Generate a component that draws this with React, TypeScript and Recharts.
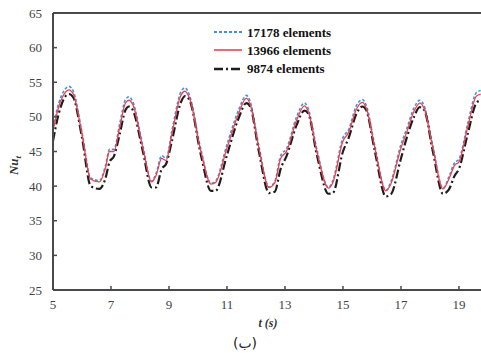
import { LineChart, Line, XAxis, YAxis, ReferenceLine, Legend } from "recharts";

const times = [
  5.0, 5.2, 5.4, 5.55, 5.7, 6.0, 6.3, 6.6, 6.8, 6.95, 7.1, 7.3, 7.5, 7.62, 7.75, 8.1, 8.4, 8.55, 8.75, 8.9,
  9.1, 9.4, 9.55, 9.7, 10.1, 10.45, 10.6, 11.0, 11.4, 11.67, 11.8, 12.1, 12.45, 12.65, 12.85, 13.05, 13.4,
  13.67, 13.8, 14.1, 14.5, 14.65, 15.0, 15.2, 15.45, 15.67, 15.8, 16.1, 16.48, 16.65, 17.0, 17.2, 17.45,
  17.65, 17.8, 18.1, 18.45, 18.65, 18.85, 19.0, 19.3, 19.6, 19.75,
];

const nu17178 = [
  48.5, 52.0, 53.9, 54.4, 53.7, 47.8, 41.2, 40.8, 42.8, 45.3, 45.3, 49.0, 52.5, 52.9, 52.2, 45.8, 40.7, 41.8, 44.4, 44.0,
  48.0, 53.5, 54.2, 53.2, 45.3, 40.4, 40.7, 46.0, 51.0, 53.1, 52.2, 45.8, 39.9, 40.7, 44.4, 45.4, 50.0,
  52.0, 51.2, 45.3, 39.8, 40.8, 47.0, 48.2, 51.5, 52.5, 51.7, 45.8, 39.4, 40.6, 46.0, 48.3, 51.3,
  52.4, 51.6, 45.8, 39.7, 41.3, 43.4, 43.9, 49.0, 53.5, 53.8,
];

const nu13966 = [
  48.0, 51.5, 53.4, 53.9, 53.3, 47.5, 41.0, 40.6, 42.5, 45.0, 45.0, 48.5, 52.0, 52.4, 51.8, 45.5, 40.6, 41.5, 44.0, 43.7,
  47.5, 53.0, 53.7, 52.8, 45.0, 40.3, 40.5, 45.5, 50.5, 52.7, 51.8, 45.5, 39.8, 40.5, 44.0, 45.0, 49.5,
  51.6, 50.8, 45.0, 39.7, 40.5, 46.5, 47.8, 51.0, 52.1, 51.3, 45.5, 39.3, 40.3, 45.5, 47.8, 50.8,
  52.0, 51.2, 45.5, 39.6, 41.0, 43.0, 43.5, 48.5, 53.0, 53.3,
];

const nu9874 = [
  46.5, 50.5, 52.8, 53.3, 52.8, 47.0, 40.0, 39.6, 41.0, 43.5, 44.3, 47.5, 51.0, 51.5, 51.0, 45.0, 39.8, 39.8, 42.5, 43.2,
  46.5, 52.0, 53.0, 52.5, 44.5, 39.3, 39.3, 44.5, 49.8, 52.0, 51.5, 45.0, 39.0, 39.2, 42.5, 44.3, 48.8,
  50.9, 50.5, 44.5, 38.9, 39.0, 45.0, 47.0, 50.3, 51.5, 51.0, 45.0, 38.5, 38.8, 44.0, 47.0, 50.0,
  51.4, 51.0, 45.0, 38.9, 39.5, 41.5, 42.5, 47.5, 52.0, 52.4,
];

const xTicks = [5, 7, 9, 11, 13, 15, 17, 19];
const yTicks = [25, 30, 35, 40, 45, 50, 55, 60, 65];

const series = [
  { key: "e17178", name: "17178 elements", color: "#3f93dc", dash: "3 2", width: 1.6 },
  { key: "e9874", name: "9874 elements", color: "#1e1e1e", dash: "9 3 2 3", width: 2.2 },
  { key: "e13966", name: "13966 elements", color: "#f2414e", dash: undefined, width: 1.3 },
];
const legendOrder = ["e17178", "e13966", "e9874"];

const data = times.map((t, i) => ({ t, e17178: nu17178[i], e13966: nu13966[i], e9874: nu9874[i] }));

// serif stack, Liberation Serif stands in for Times
const FONT = "'Liberation Serif', 'Times New Roman', Times, serif";
const AXIS = "#4a4a4a";
const LABEL = "#444";

const XTick = ({ x, y, payload }: any) => (
  <g>
    <line x1={x} x2={x} y1={y - 10} y2={y - 14} stroke={AXIS} strokeWidth={1.5} />
    <text x={x} y={y} dy="0.71em" textAnchor="middle" fontFamily={FONT} fontSize={13} fill={LABEL}>
      {payload.value}
    </text>
  </g>
);

const YTick = ({ x, y, payload }: any) => (
  <g>
    <line x1={x + 11} x2={x + 15} y1={y} y2={y} stroke={AXIS} strokeWidth={1.5} />
    <text x={x} y={y} dy="0.35em" textAnchor="end" fontFamily={FONT} fontSize={13} fill={LABEL}>
      {payload.value}
    </text>
  </g>
);

const renderLegend = () => (
  <div style={{ fontFamily: FONT, fontWeight: "bold", fontSize: 13, color: "#111", lineHeight: 1 }}>
    {legendOrder.map((k) => {
      const s = series.find((x) => x.key === k)!;
      return (
        <div key={k} style={{ display: "flex", alignItems: "center", height: 18.3 }}>
          <svg width={30} height={6} style={{ marginRight: 4 }}>
            <line x1={1} x2={29} y1={3} y2={3} stroke={s.color} strokeWidth={s.width + 0.3} strokeDasharray={s.dash} />
          </svg>
          <span>{s.name}</span>
        </div>
      );
    })}
  </div>
);

export default function App() {
  return (
    <div style={{ width: 481, height: 353, position: "relative", background: "#fff" }}>
      <style>{"body{margin:0}"}</style>
      <LineChart width={481} height={353} data={data} margin={{ top: 13, right: 0, bottom: 33, left: 0 }}>
        <XAxis
          dataKey="t"
          type="number"
          domain={[5, 19.76]}
          allowDataOverflow
          ticks={xTicks}
          height={30}
          tickSize={0}
          tickMargin={10}
          tick={<XTick />}
          stroke={AXIS}
          strokeWidth={2}
          label={(props: any) => {
            const vb = props.viewBox;
            return (
              <g>
                <text
                  x={vb.x + vb.width / 2 + 1}
                  y={vb.y + 37}
                  textAnchor="middle"
                  fontFamily={FONT}
                  fontStyle="italic"
                  fontWeight="bold"
                  fontSize={12}
                  fill="#333"
                >
                  t (s)
                </text>
                <text x={245} y={348} textAnchor="middle" fontFamily="'DejaVu Sans', sans-serif" fontSize={14} fill="#222">
                  (ب)
                </text>
              </g>
            );
          }}
        />
        <YAxis
          type="number"
          domain={[25, 65]}
          ticks={yTicks}
          width={53}
          tickSize={0}
          tickMargin={11}
          tick={<YTick />}
          stroke={AXIS}
          strokeWidth={2}
          label={(props: any) => {
            const vb = props.viewBox;
            const cx = 18;
            const cy = vb.y + vb.height / 2 + 14;
            return (
              <text
                transform={`translate(${cx},${cy}) rotate(-90)`}
                textAnchor="middle"
                fontFamily={FONT}
                fontStyle="italic"
                fontWeight="bold"
                fontSize={13}
                fill="#333"
              >
                Nu
                <tspan fontSize={9} dy={3}>t</tspan>
              </text>
            );
          }}
        />
        <ReferenceLine y={65} stroke={AXIS} strokeWidth={2} />
        {series.map((s) => (
          <Line
            key={s.key}
            dataKey={s.key}
            name={s.name}
            type="monotone"
            stroke={s.color}
            strokeWidth={s.width}
            strokeDasharray={s.dash}
            dot={false}
            isAnimationActive={false}
          />
        ))}
        <Legend
          layout="vertical"
          align="center"
          verticalAlign="middle"
          content={renderLegend}
          wrapperStyle={{ position: "absolute", top: 23, left: 213, width: 160, height: 56 }}
        />
      </LineChart>
    </div>
  );
}
